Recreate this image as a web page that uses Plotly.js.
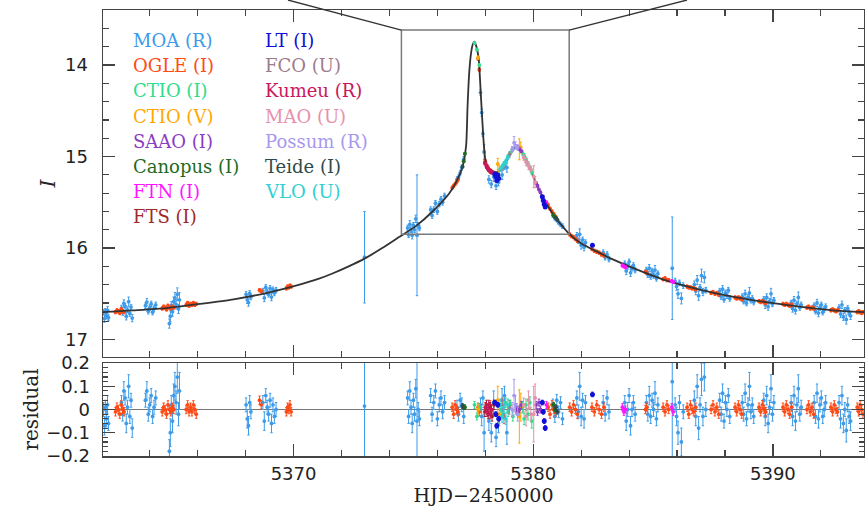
<!DOCTYPE html>
<html>
<head>
<meta charset="utf-8">
<script src="https://cdn.plot.ly/plotly-3.0.1.min.js"></script>
<style>html,body{margin:0;padding:0;background:#fff;}#plot{width:865px;height:508px;}</style>
</head>
<body>
<div id="plot"></div>
<script>
// ---------- axis ranges ----------
const xRange = [5362.05, 5393.8];
const topRange = [17.19, 13.398];
const resRange = [-0.2005, 0.2005];
const zoomBoxT = [5374.5, 5381.5];
const zoomBoxMag = [13.617, 15.849];

// ---------- model light curve ----------
const modelT = [5362.05,5363.3,5364.7,5366.1,5367.5,5368.9,5370.25,5371.0,5371.6,5372.3,5373.0,5373.7,5374.4,5375.1,5375.8,5376.5,5376.8,5377.05,5377.2,5377.26,5377.33,5377.40,5377.47,5377.54,5377.62,5377.72,5377.82,5377.92,5378.0,5378.1,5378.3,5378.5,5378.65,5378.86,5379.1,5379.28,5379.45,5379.62,5379.85,5380.25,5380.8,5381.45,5382.0,5382.75,5383.2,5384.1,5385.5,5386.9,5388.3,5389.7,5391.1,5392.5,5393.8];
const modelMag = [16.70,16.68,16.655,16.61,16.56,16.49,16.40,16.34,16.28,16.20,16.11,16.00,15.88,15.76,15.60,15.40,15.27,15.11,14.88,14.45,14.08,13.88,13.78,13.745,13.79,13.92,14.35,14.80,15.03,15.12,15.16,15.17,15.14,15.06,14.95,14.89,14.93,14.99,15.12,15.37,15.62,15.83,15.95,16.05,16.11,16.21,16.35,16.45,16.53,16.59,16.64,16.68,16.70];

// ---------- MOA (R) ----------
const moaT = [
 5362.07,5362.11,5362.15,5362.19,5362.24,5362.28,
 5362.82,5362.87,5362.92,5362.97,5363.02,5363.07,5363.12,5363.17,5363.22,5363.27,
 5363.82,5363.88,5363.94,5364.00,5364.06,5364.12,5364.18,5364.25,
 5364.82,5364.86,5364.90,5364.95,5365.00,5365.05,5365.10,5365.15,5365.20,5365.24,
 5368.02,5368.07,5368.12,5368.17,5368.22,
 5368.72,5368.78,5368.84,5368.90,5368.96,5369.02,5369.08,5369.14,5369.20,5369.27,
 5372.96,5375.15,5385.80,
 5374.76,5374.80,5374.85,5374.90,5374.95,5375.00,5375.05,5375.10,5375.20,5375.25,
 5375.72,5375.78,5375.85,5375.92,5376.00,5376.08,5376.15,5376.22,5376.30,
 5376.82,5376.88,5376.95,5377.02,5377.10,
 5377.80,5377.85,5377.90,5377.95,
 5378.15,5378.25,5378.35,5378.45,5378.55,5378.70,5378.80,5378.90,
 5380.82,5380.90,5380.98,5381.06,5381.14,5381.22,
 5381.82,5381.88,5381.94,5382.00,5382.06,5382.12,5382.18,
 5382.92,5383.00,5383.08,5383.16,
 5383.82,5383.88,5383.94,5384.00,5384.06,5384.12,5384.18,5384.25,
 5384.72,5384.78,5384.84,5384.90,5384.96,5385.02,5385.08,5385.14,5385.20,
 5385.92,5385.98,5386.04,5386.10,5386.18,5386.26,
 5386.72,5386.78,5386.84,5386.90,5386.96,5387.02,5387.08,5387.14,5387.20,
 5387.78,5387.84,5387.90,5387.96,5388.02,5388.08,5388.14,5388.20,
 5388.72,5388.78,5388.84,5388.90,5388.96,5389.02,5389.08,5389.14,5389.20,
 5389.62,5389.68,5389.74,5389.80,5389.86,5389.92,5389.98,5390.04,
 5390.76,5390.82,5390.88,5390.94,5391.00,5391.06,5391.12,5391.18,
 5391.72,5391.78,5391.84,5391.90,5391.96,5392.02,5392.08,5392.14,5392.20,
 5392.76,5392.82,5392.88,5392.94,5393.00,5393.06,5393.12,5393.18,5393.24];
const moaMag = [
 16.70,16.77,16.69,16.74,16.68,16.76,
 16.655,16.705,16.605,16.635,16.745,16.675,16.585,16.715,16.645,16.765,
 16.63,16.59,16.69,16.65,16.61,16.70,16.66,16.62,
 16.825,16.745,16.625,16.695,16.585,16.545,16.615,16.505,16.665,16.565,
 16.505,16.565,16.595,16.495,16.535,
 16.47,16.545,16.43,16.48,16.505,16.44,16.535,16.455,16.49,16.46,
 16.10,15.86,16.22,
 15.78,15.855,15.74,15.80,15.86,15.75,15.80,15.68,15.75,15.78,
 15.58,15.645,15.58,15.51,15.60,15.52,15.465,15.50,15.43,
 15.25,15.23,15.18,15.12,15.03,
 14.30,14.52,14.75,14.95,
 15.25,15.30,15.22,15.32,15.28,15.20,15.10,15.12,
 15.64,15.67,15.69,15.72,15.74,15.76,
 15.86,15.92,15.85,15.97,15.91,15.99,15.94,
 16.05,16.10,16.07,16.12,
 16.17,16.25,16.20,16.15,16.27,16.22,16.19,16.24,
 16.24,16.29,16.22,16.31,16.25,16.30,16.24,16.33,16.28,
 16.36,16.42,16.50,16.38,16.55,16.41,
 16.40,16.47,16.35,16.52,16.43,16.30,16.48,16.32,16.46,
 16.47,16.53,16.45,16.56,16.49,16.52,16.46,16.55,
 16.53,16.58,16.50,16.60,16.54,16.49,16.57,16.55,16.59,
 16.56,16.62,16.54,16.64,16.58,16.50,16.61,16.57,
 16.60,16.66,16.57,16.68,16.61,16.54,16.65,16.62,
 16.63,16.69,16.60,16.71,16.65,16.62,16.70,16.67,16.64,
 16.65,16.72,16.62,16.75,16.68,16.78,16.66,16.71,16.74];
const moaRes = [
 0.00,-0.07,0.01,-0.04,0.02,-0.06,
 0.03,-0.02,0.08,0.05,-0.06,0.01,0.10,-0.03,0.04,-0.08,
 0.04,0.08,-0.02,0.02,0.06,-0.03,0.01,0.05,
 -0.18,-0.10,0.02,-0.05,0.06,0.10,0.03,0.14,-0.02,0.08,
 0.02,-0.04,-0.07,0.03,-0.01,
 0.03,-0.05,0.06,0.01,-0.02,0.04,-0.06,0.02,-0.03,0.00,
 0.015,-0.05,0.12,
 0.05,-0.03,0.08,0.01,-0.06,0.04,-0.02,0.09,0.00,-0.04,
 0.06,-0.02,0.03,0.08,-0.04,0.02,0.05,-0.01,0.03,
 0.01,-0.02,0.04,0.02,-0.03,
 0.02,-0.03,0.05,-0.10,
 -0.05,-0.10,0.03,-0.12,-0.06,0.04,0.06,-0.10,
 0.02,-0.03,0.04,-0.01,0.03,-0.04,
 0.05,-0.01,0.10,-0.03,0.04,-0.04,0.03,
 0.03,-0.02,0.05,-0.01,
 0.03,-0.05,0.00,0.06,-0.07,0.00,0.03,-0.02,
 0.03,-0.02,0.06,-0.03,0.04,0.00,0.07,-0.04,0.02,
 0.02,-0.03,-0.10,0.03,-0.14,-0.01,
 0.04,-0.03,0.10,-0.08,0.02,0.13,-0.03,0.14,0.00,
 0.04,-0.02,0.07,-0.05,0.03,0.00,0.06,-0.03,
 0.03,-0.02,0.07,-0.04,0.02,0.10,-0.01,0.02,-0.03,
 0.04,-0.03,0.06,-0.06,0.01,0.09,-0.02,0.03,
 0.03,-0.03,0.06,-0.05,0.02,0.09,-0.02,0.01,
 0.03,-0.03,0.07,-0.04,0.02,0.05,-0.03,0.00,0.03,
 0.03,-0.04,0.06,-0.06,0.00,-0.09,0.02,-0.03,-0.05];
const moaErr = [
 0.03,0.04,0.03,0.035,0.04,0.03,
 0.03,0.03,0.04,0.03,0.04,0.03,0.05,0.03,0.03,0.04,
 0.03,0.04,0.03,0.03,0.03,0.03,0.03,0.03,
 0.05,0.06,0.04,0.05,0.05,0.06,0.05,0.07,0.05,0.08,
 0.03,0.04,0.04,0.03,0.03,
 0.03,0.04,0.03,0.03,0.03,0.03,0.04,0.03,0.03,0.03,
 0.50,0.66,0.56,
 0.03,0.03,0.04,0.03,0.04,0.03,0.03,0.04,0.03,0.03,
 0.03,0.03,0.03,0.03,0.03,0.03,0.03,0.03,0.03,
 0.03,0.03,0.03,0.03,0.03,
 0.03,0.04,0.03,0.08,
 0.04,0.04,0.05,0.04,0.04,0.05,0.04,0.05,
 0.025,0.025,0.025,0.025,0.025,0.025,
 0.03,0.03,0.06,0.04,0.03,0.04,0.03,
 0.03,0.03,0.03,0.03,
 0.03,0.04,0.03,0.03,0.04,0.03,0.03,0.03,
 0.03,0.03,0.04,0.03,0.03,0.03,0.05,0.03,0.03,
 0.03,0.04,0.05,0.03,0.06,0.03,
 0.04,0.04,0.05,0.05,0.03,0.07,0.04,0.06,0.03,
 0.03,0.03,0.04,0.03,0.03,0.03,0.03,0.03,
 0.03,0.03,0.04,0.03,0.03,0.06,0.03,0.03,0.03,
 0.03,0.04,0.04,0.04,0.03,0.06,0.03,0.03,
 0.03,0.04,0.04,0.04,0.03,0.06,0.03,0.03,
 0.03,0.03,0.04,0.04,0.03,0.03,0.03,0.03,0.03,
 0.03,0.04,0.04,0.04,0.03,0.05,0.03,0.03,0.04];

// ---------- OGLE (I) ----------
const ogleErr = 0.018;
const ogleT = [
 5362.57,5362.63,5362.69,5362.75,5362.81,5362.87,5362.93,
 5364.52,5364.58,5364.64,5364.70,5364.76,5364.82,5364.88,5364.94,5365.00,
 5365.52,5365.58,5365.64,5365.70,5365.76,5365.82,5365.88,5365.94,
 5368.58,5368.65,
 5369.70,5369.75,5369.80,5369.85,5369.90,
 5376.62,5376.68,5376.74,5376.80,5376.86,
 5377.70,5377.75,5378.00,5378.10,5378.20,
 5380.62,5380.70,5380.78,5380.86,5380.94,
 5381.52,5381.60,5381.68,5381.76,5381.84,
 5382.45,5382.55,5382.65,5382.75,5382.85,5382.95,
 5384.68,5384.74,
 5385.42,5385.50,5385.58,5385.65,
 5386.42,5386.49,5386.56,5386.63,5386.70,5386.78,
 5387.42,5387.50,5387.58,5387.66,5387.74,
 5388.42,5388.49,5388.56,5388.63,5388.70,
 5389.42,5389.49,5389.56,5389.63,5389.70,
 5390.42,5390.49,5390.56,5390.63,5390.70,5390.78,
 5391.42,5391.49,5391.56,5391.63,5391.70,
 5392.42,5392.49,5392.56,5392.63,5392.70,
 5393.52,5393.58,5393.64,5393.70,5393.76];
const ogleMag = [
 16.70,16.68,16.69,16.71,16.67,16.69,16.70,
 16.66,16.64,16.65,16.67,16.63,16.65,16.66,16.64,16.65,
 16.62,16.60,16.63,16.61,16.62,16.60,16.62,16.61,
 16.46,16.47,
 16.44,16.42,16.43,16.41,16.42,
 15.34,15.32,15.30,15.28,15.25,
 13.93,14.05,15.05,15.11,15.15,
 15.53,15.57,15.60,15.63,15.66,
 15.85,15.87,15.88,15.90,15.92,
 16.01,16.03,16.04,16.05,16.07,16.08,
 16.26,16.27,
 16.34,16.33,16.35,16.35,
 16.42,16.43,16.43,16.44,16.44,16.45,
 16.49,16.48,16.50,16.49,16.51,
 16.54,16.55,16.54,16.55,16.56,
 16.58,16.59,16.58,16.59,16.60,
 16.61,16.62,16.61,16.62,16.63,16.62,
 16.65,16.64,16.66,16.65,16.66,
 16.68,16.67,16.68,16.69,16.68,
 16.70,16.69,16.70,16.71,16.70];
const ogleRes = [
 -0.01,0.01,0.00,-0.02,0.02,0.00,-0.01,
 -0.01,0.01,0.00,-0.02,0.02,0.00,-0.01,0.01,0.00,
 0.00,0.02,-0.01,0.01,-0.01,0.02,0.00,-0.02,
 0.04,0.02,
 -0.01,0.01,0.00,0.02,-0.01,
 0.01,-0.02,0.02,0.00,-0.01,
 0.01,-0.01,0.01,-0.01,0.02,
 0.01,-0.02,0.02,0.00,-0.01,
 0.01,-0.01,0.02,0.00,-0.02,
 0.01,-0.01,0.02,0.00,-0.02,0.01,
 0.00,0.01,
 0.01,-0.01,0.02,0.00,
 0.01,-0.02,0.02,0.00,-0.01,0.01,
 0.00,0.02,-0.01,0.01,-0.02,
 0.01,-0.01,0.02,0.00,-0.02,
 0.01,-0.01,0.02,0.00,-0.01,
 0.01,-0.01,0.02,0.00,-0.02,0.01,
 0.00,0.02,-0.01,0.01,-0.02,
 0.01,-0.01,0.02,0.00,-0.01,
 0.01,-0.01,0.02,0.00,-0.02];

// ---------- other sites (around the caustic features) ----------
const ctioIT = [5377.55,5377.65,5377.75,5378.65,5378.75,5378.85,5378.95,5379.05,5379.15,5379.55,5379.62,5379.70,5379.78,5379.86,5379.94];
const ctioIMag = [13.76,13.83,14.00,15.14,15.10,15.06,15.00,14.96,14.92,14.96,14.99,15.03,15.08,15.12,15.17];
const ctioIRes = [0.02,-0.03,0.01,0.00,-0.02,0.03,-0.01,0.02,-0.03,0.01,-0.04,0.02,-0.02,0.03,-0.05];
const ctioIErr = [0.015,0.015,0.015,0.02,0.02,0.02,0.02,0.02,0.02,0.025,0.025,0.025,0.025,0.025,0.03];

const ctioVT = [5377.70,5378.52,5378.58,5379.42,5379.48];
const ctioVMag = [13.92,15.08,15.15,14.92,14.90];
const ctioVRes = [0.00,0.04,-0.02,-0.03,0.01];
const ctioVErr = [0.02,0.06,0.05,0.115,0.06];

const saaoT = [5379.30,5379.36,5379.42,5379.50,5380.12,5380.18,5380.24,5380.30];
const saaoMag = [14.89,14.90,14.92,14.94,15.29,15.32,15.36,15.39];
const saaoRes = [0.01,-0.01,0.00,0.02,0.02,-0.01,0.03,0.00];
const saaoErr = [0.015,0.015,0.015,0.015,0.015,0.015,0.015,0.015];

const canopusT = [5377.10,5377.15,5380.85,5380.90];
const canopusMag = [15.05,14.97,15.64,15.66];
const canopusRes = [0.01,0.01,0.02,0.00];
const canopusErr = [0.01,0.01,0.01,0.01];

const ftnT = [5380.55,5383.72,5383.78,5383.85,5385.78,5385.84];
const ftnMag = [15.50,16.19,16.20,16.21,16.36,16.37];
const ftnRes = [0.02,0.01,-0.01,0.00,0.01,-0.01];
const ftnErr = [0.015,0.015,0.015,0.015,0.015,0.015];

const ftsT = [5377.98,5378.05,5378.12,5378.20,5378.28,5378.36];
const ftsMag = [15.07,15.11,15.14,15.16,15.17,15.18];
const ftsRes = [-0.01,0.02,-0.02,0.01,-0.03,0.02];
const ftsErr = [0.02,0.02,0.02,0.02,0.02,0.02];

const ltT = [5378.40,5378.44,5378.48,5378.52,5378.56,5380.38,5380.42,5380.46,5380.50,5382.47];
const ltMag = [15.19,15.22,15.26,15.20,15.24,15.44,15.48,15.52,15.55,15.97];
const ltRes = [0.03,-0.02,-0.07,0.02,-0.04,0.03,-0.01,-0.05,-0.08,0.065];
const ltErr = [0.01,0.01,0.01,0.01,0.01,0.01,0.01,0.01,0.01,0.01];

const fcoT = [5378.72,5378.78,5379.00];
const fcoMag = [15.12,15.09,14.98];
const fcoRes = [0.02,-0.03,0.01];
const fcoErr = [0.03,0.03,0.03];

const kumeuT = [5378.02,5378.08,5378.14,5378.20,5378.26];
const kumeuMag = [15.08,15.12,15.14,15.16,15.17];
const kumeuRes = [0.01,-0.01,0.02,-0.02,0.00];
const kumeuErr = [0.02,0.02,0.02,0.02,0.02];

const maoT = [5379.60,5379.70,5379.80,5379.90,5380.02,5380.08];
const maoMag = [15.01,15.06,15.10,15.14,15.22,15.28];
const maoRes = [0.02,-0.03,0.04,-0.02,-0.02,0.05];
const maoErr = [0.03,0.04,0.04,0.03,0.12,0.06];

const possumT = [5379.12,5379.20,5379.26,5379.35];
const possumMag = [14.92,14.85,14.88,14.90];
const possumRes = [0.00,0.06,0.02,-0.02];
const possumErr = [0.03,0.07,0.04,0.03];

const teideT = [5377.05,5380.95,5381.00];
const teideMag = [15.11,15.67,15.69];
const teideRes = [0.015,0.01,-0.01];
const teideErr = [0.01,0.01,0.01];

const vloT = [5378.62,5378.70,5378.78,5378.86,5378.94];
const vloMag = [15.14,15.11,15.08,15.05,15.01];
const vloRes = [0.02,-0.03,0.01,-0.04,0.02];
const vloErr = [0.025,0.025,0.025,0.025,0.025];

// ---------- legend labels ----------
const legendCol1 = ['MOA (R)','OGLE (I)','CTIO (I)','CTIO (V)','SAAO (I)','Canopus (I)','FTN (I)','FTS (I)'];
const legendCol1Colors = ['#3d9be9','#ff4a14','#2fdc8a','#ffa800','#8a3cc4','#1f6b1f','#ff14ff','#a0282a'];
const legendCol2 = ['LT (I)','FCO (U)','Kumeu (R)','MAO (U)','Possum (R)','Teide (I)','VLO (U)'];
const legendCol2Colors = ['#1010d8','#9c7b8e','#c8175d','#e890aa','#a898ee','#2f4a48','#30d0d0'];

// ---------- build ----------
const C = {
  moa:'#3d9be9', ogle:'#ff4a14', ctioI:'#2fdc8a', ctioV:'#ffa800', saao:'#8a3cc4', canopus:'#1f6b1f',
  ftn:'#ff14ff', fts:'#a0282a', lt:'#1010d8', fco:'#9c7b8e', kumeu:'#c8175d', mao:'#e890aa',
  possum:'#a898ee', teide:'#2f4a48', vlo:'#30d0d0'
};

function pair(name, t, mag, res, err, color, size) {
  const eb = Array.isArray(err)
    ? {type:'data', array:err, visible:true, thickness:1, width:1.2, color:color}
    : {type:'constant', value:err, visible:true, thickness:1, width:1.2, color:color};
  const base = {type:'scatter', mode:'markers', name:name, x:t, marker:{color:color, size:size, line:{width:0}},
                error_y:eb, hoverinfo:'skip', showlegend:false, cliponaxis:true};
  return [
    Object.assign({}, base, {y:mag, xaxis:'x', yaxis:'y'}),
    Object.assign({}, base, {y:res, xaxis:'x2', yaxis:'y2'})
  ];
}

let traces = [];
traces = traces.concat(pair('MOA (R)', moaT, moaMag, moaRes, moaErr, C.moa, 3.8));
traces = traces.concat(pair('OGLE (I)', ogleT, ogleMag, ogleRes, ogleErr, C.ogle, 3.8));
traces.push({type:'scatter', mode:'lines', x:modelT, y:modelMag, xaxis:'x', yaxis:'y',
  line:{color:'#333333', width:1.8, shape:'spline', smoothing:0.6}, hoverinfo:'skip', showlegend:false});
traces = traces.concat(pair('CTIO (I)', ctioIT, ctioIMag, ctioIRes, ctioIErr, C.ctioI, 3.8));
traces = traces.concat(pair('CTIO (V)', ctioVT, ctioVMag, ctioVRes, ctioVErr, C.ctioV, 3.8));
traces = traces.concat(pair('SAAO (I)', saaoT, saaoMag, saaoRes, saaoErr, C.saao, 3.8));
traces = traces.concat(pair('FTN (I)', ftnT, ftnMag, ftnRes, ftnErr, C.ftn, 3.8));
traces = traces.concat(pair('FTS (I)', ftsT, ftsMag, ftsRes, ftsErr, C.fts, 3.8));
traces = traces.concat(pair('FCO (U)', fcoT, fcoMag, fcoRes, fcoErr, C.fco, 3.8));
traces = traces.concat(pair('Kumeu (R)', kumeuT, kumeuMag, kumeuRes, kumeuErr, C.kumeu, 3.8));
traces = traces.concat(pair('MAO (U)', maoT, maoMag, maoRes, maoErr, C.mao, 3.8));
traces = traces.concat(pair('Possum (R)', possumT, possumMag, possumRes, possumErr, C.possum, 3.8));
traces = traces.concat(pair('VLO (U)', vloT, vloMag, vloRes, vloErr, C.vlo, 3.8));
traces = traces.concat(pair('Canopus (I)', canopusT, canopusMag, canopusRes, canopusErr, C.canopus, 4));
traces = traces.concat(pair('Teide (I)', teideT, teideMag, teideRes, teideErr, C.teide, 4));
traces = traces.concat(pair('LT (I)', ltT, ltMag, ltRes, ltErr, C.lt, 5));

// geometry helpers for the zoom box connector lines (paper coords)
const topDom = [0.222, 1];
const botDom = [0, 0.2085];
function xPaper(t){ return (t - xRange[0]) / (xRange[1] - xRange[0]); }
function yPaperTop(m){ return topDom[0] + (topRange[0] - m) / (topRange[0] - topRange[1]) * (topDom[1] - topDom[0]); }
const connectorTopY = 1.0224;
const connectorLeftX = 0.2431, connectorRightX = 0.7674;

const shapes = [
  {type:'rect', xref:'x', yref:'y', x0:zoomBoxT[0], x1:zoomBoxT[1], y0:zoomBoxMag[0], y1:zoomBoxMag[1],
   line:{color:'#7a7a7a', width:1.5}, fillcolor:'rgba(0,0,0,0)', layer:'above'},
  {type:'line', xref:'paper', yref:'paper', x0:xPaper(zoomBoxT[0]), y0:yPaperTop(zoomBoxMag[0]), x1:connectorLeftX, y1:connectorTopY,
   line:{color:'#333', width:1.3}},
  {type:'line', xref:'paper', yref:'paper', x0:xPaper(zoomBoxT[1]), y0:yPaperTop(zoomBoxMag[0]), x1:connectorRightX, y1:connectorTopY,
   line:{color:'#333', width:1.3}}
];

const annotations = [];
const legFont = 'DejaVu Serif, serif';
const rowY0 = 40.6, rowStep = 25.15, plotBottomPx = 456, plotHeightPx = 446;
legendCol1.forEach((s,i)=>annotations.push({xref:'paper', yref:'paper', x:0.0365, y:(plotBottomPx-(rowY0+rowStep*i))/plotHeightPx,
  xanchor:'left', yanchor:'middle', text:s, showarrow:false, font:{family:legFont, size:18, color:legendCol1Colors[i]}}));
legendCol2.forEach((s,i)=>annotations.push({xref:'paper', yref:'paper', x:0.2100, y:(plotBottomPx-(rowY0+rowStep*i))/plotHeightPx,
  xanchor:'left', yanchor:'middle', text:s, showarrow:false, font:{family:legFont, size:18, color:legendCol2Colors[i]}}));

const tickFont = {family:'DejaVu Sans, sans-serif', size:18, color:'#222'};
const ax = {showline:true, linecolor:'#444', linewidth:1.5, mirror:'ticks', ticks:'inside', tickcolor:'#444', tickwidth:1.3,
            showgrid:false, zeroline:false, fixedrange:true};

const layout = {
  width:865, height:508, margin:{l:103, r:1, t:10, b:52}, paper_bgcolor:'#fff', plot_bgcolor:'#fff',
  showlegend:false, hovermode:false,
  xaxis: Object.assign({}, ax, {domain:[0,1], anchor:'y', range:xRange, tick0:5370, dtick:10, ticklen:12,
     minor:{tick0:5370, dtick:2, ticklen:6, ticks:'inside', tickcolor:'#444', tickwidth:1.2, showgrid:false}, showticklabels:false}),
  yaxis: Object.assign({}, ax, {domain:topDom, anchor:'x', range:topRange, tick0:0, dtick:1, ticklen:12,
     minor:{tick0:0, dtick:0.2, ticklen:6, ticks:'inside', tickcolor:'#444', tickwidth:1.2, showgrid:false},
     tickfont:tickFont, ticklabelstandoff:10,
     title:{text:'<i>I</i>', font:{family:'DejaVu Serif, serif', size:20, color:'#222'}, standoff:4}}),
  xaxis2: Object.assign({}, ax, {domain:[0,1], anchor:'y2', range:xRange, tick0:5370, dtick:10, ticklen:12,
     minor:{tick0:5370, dtick:2, ticklen:6, ticks:'inside', tickcolor:'#444', tickwidth:1.2, showgrid:false},
     tickfont:tickFont, ticklabelstandoff:1,
     title:{text:'HJD−2450000', font:{family:'DejaVu Serif, serif', size:19, color:'#222'}, standoff:3}}),
  yaxis2: Object.assign({}, ax, {domain:botDom, anchor:'x2', range:resRange, tick0:0, dtick:0.1, ticklen:12,
     minor:{tick0:0, dtick:0.02, ticklen:5, ticks:'inside', tickcolor:'#444', tickwidth:1.1, showgrid:false},
     tickfont:tickFont, ticklabelstandoff:8, zeroline:true, zerolinecolor:'#777', zerolinewidth:1,
     title:{text:'residual', font:{family:'DejaVu Serif, serif', size:20, color:'#222'}, standoff:2}}),
  shapes:shapes, annotations:annotations
};

Plotly.newPlot('plot', traces, layout, {displayModeBar:false, staticPlot:true});
</script>
</body>
</html>
